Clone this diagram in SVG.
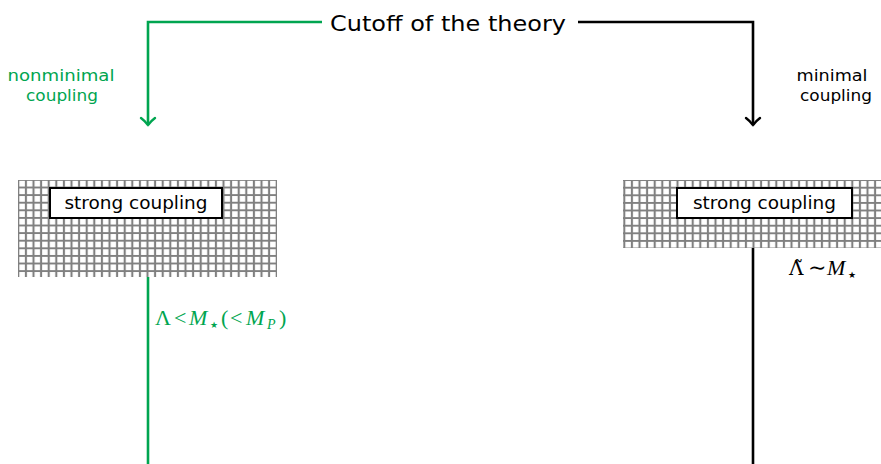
<svg xmlns="http://www.w3.org/2000/svg" width="881" height="464" viewBox="0 0 881 464">
<style>
.sans{font-family:"DejaVu Sans","Open Sans",sans-serif}
.math{font-family:"Liberation Serif","DejaVu Serif",serif;font-size:22px}
.it{font-style:italic}
.star{font-family:"DejaVu Sans",sans-serif;font-size:9px}
.g{fill:#00a550}
.k{fill:#000}
.lg{stroke:#00a550;stroke-width:2.6;fill:none}
.lk{stroke:#000;stroke-width:2.6;fill:none}
.box{fill:#fff;stroke:#000;stroke-width:2}
</style>
<defs>
<pattern id="gridL" patternUnits="userSpaceOnUse" x="14.5" y="183.7" width="7.6" height="7.6">
<path d="M3.8,0V7.6M0,3.8H7.6" stroke="#808080" stroke-width="2.1"/>
</pattern>
<pattern id="gridR" patternUnits="userSpaceOnUse" x="620.5" y="183.9" width="7.6" height="7.6">
<path d="M3.8,0V7.6M0,3.8H7.6" stroke="#808080" stroke-width="2.1"/>
</pattern>
<marker id="toG" markerUnits="userSpaceOnUse" viewBox="-10 -10 20 20" markerWidth="20" markerHeight="20" refX="0" refY="0" orient="auto" overflow="visible">
<path d="M-7,-7 C-4,-3 -1,-1 0,0 C-1,1 -4,3 -7,7" stroke="#00a550" stroke-width="2.4" fill="none" stroke-linecap="round"/>
</marker>
<marker id="toK" markerUnits="userSpaceOnUse" viewBox="-10 -10 20 20" markerWidth="20" markerHeight="20" refX="0" refY="0" orient="auto" overflow="visible">
<path d="M-7,-7 C-4,-3 -1,-1 0,0 C-1,1 -4,3 -7,7" stroke="#000" stroke-width="2.4" fill="none" stroke-linecap="round"/>
</marker>
</defs>

<g id="cutoff">
<text class="sans k" x="448" y="31" font-size="22" text-anchor="middle" textLength="236" lengthAdjust="spacingAndGlyphs">Cutoff of the theory</text>
</g>

<g id="strong-left">
<rect x="18" y="180" width="259" height="97" fill="url(#gridL)"/>
<rect class="box" x="50" y="188" width="172" height="30"/>
<text class="sans k" x="136" y="209" font-size="17" text-anchor="middle" textLength="143" lengthAdjust="spacingAndGlyphs">strong coupling</text>
</g>

<g id="strong-right">
<rect x="623" y="180" width="258" height="68" fill="url(#gridR)"/>
<rect class="box" x="677" y="188" width="175" height="30"/>
<text class="sans k" x="764.5" y="209" font-size="17" text-anchor="middle" textLength="143" lengthAdjust="spacingAndGlyphs">strong coupling</text>
</g>

<g id="connectors">
<path class="lg" d="M322,22H148V125" marker-end="url(#toG)"/>
<path class="lk" d="M578,22H753V125" marker-end="url(#toK)"/>
<path class="lg" d="M148,277V464"/>
<path class="lk" d="M753,248V464"/>
</g>

<g id="labels">
<text class="sans g" font-size="15" text-anchor="middle"><tspan x="61" y="81" textLength="107" lengthAdjust="spacingAndGlyphs">nonminimal</tspan><tspan x="62" y="101" textLength="72" lengthAdjust="spacingAndGlyphs">coupling</tspan></text>
<text class="sans k" font-size="15" text-anchor="middle"><tspan x="832" y="81" textLength="71" lengthAdjust="spacingAndGlyphs">minimal</tspan><tspan x="836" y="101" textLength="72" lengthAdjust="spacingAndGlyphs">coupling</tspan></text>
<text class="math g" y="325"><tspan x="155">Λ</tspan><tspan x="174">&lt;</tspan><tspan class="it" x="189">M</tspan><tspan class="star" x="210" y="328">★</tspan><tspan x="221" y="325">(</tspan><tspan x="230">&lt;</tspan><tspan class="it" x="246">M</tspan><tspan class="it" x="267" y="329" font-size="14">P</tspan><tspan x="279" y="325">)</tspan></text>
<text class="math k" y="275"><tspan x="789" font-family="DejaVu Serif" font-size="20">Λ̃</tspan><tspan x="808">∼</tspan><tspan class="it" x="827">M</tspan><tspan class="star" x="848" y="278">★</tspan></text>
</g>
</svg>
